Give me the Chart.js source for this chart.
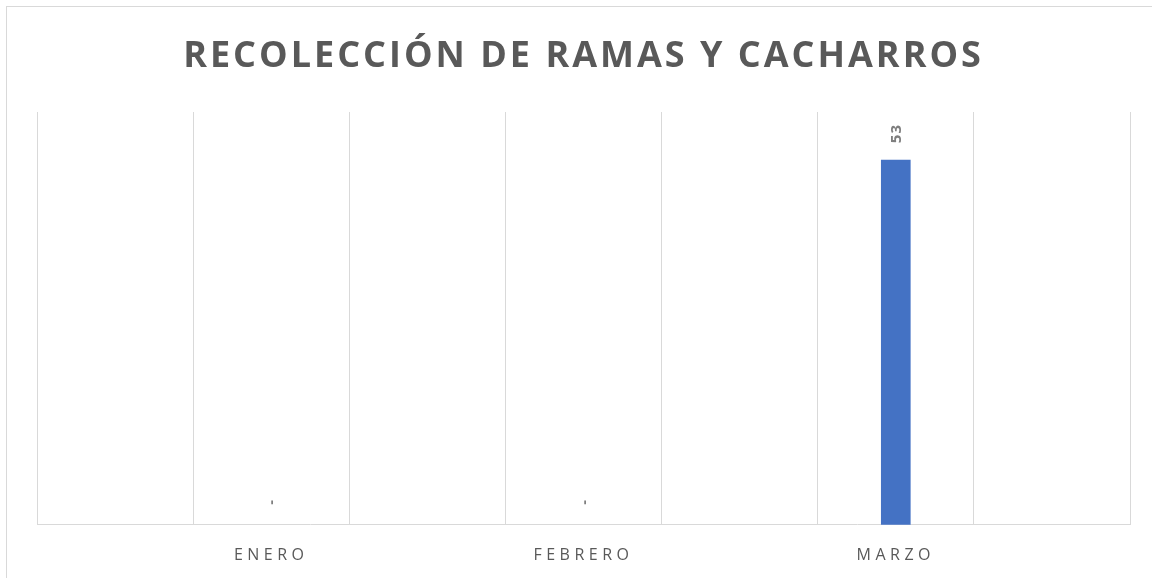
<!DOCTYPE html>
<html>
<head>
<meta charset="utf-8">
<script src="https://cdn.jsdelivr.net/npm/chart.js@4"></script>
<style>
  html, body { margin: 0; padding: 0; background: #ffffff; }
  #wrap { width: 1152px; height: 578px; }
</style>
</head>
<body>
<div id="wrap"><canvas id="chart"></canvas></div>
<script>
const chartTitle = 'RECOLECCIÓN DE RAMAS Y CACHARROS';
const months = ['', 'ENERO', '', 'FEBRERO', '', 'MARZO', ''];
const collected = [null, 0, null, 0, null, 53, null];
const yMax = 60;

const textGray = '#595959';
const gridGray = '#d9d9d9';

// frame, title and letter spacing for the axis labels
const framePlugin = {
    id: 'frame',
    beforeDraw(chart) {
        const ctx = chart.ctx;
        ctx.save();
        ctx.strokeStyle = gridGray;
        ctx.lineWidth = 1;
        ctx.strokeRect(6.5, 6.5, chart.width + 10, chart.height + 10);
        ctx.restore();
        ctx.letterSpacing = '4.5px';
    },
    afterDatasetsDraw(chart) {
        const ctx = chart.ctx;
        ctx.save();
        ctx.letterSpacing = '1px';
        ctx.fillStyle = '#7f7f7f';
        ctx.font = 'bold 15px "Open Sans"';
        ctx.textAlign = 'left';
        ctx.textBaseline = 'middle';
        const meta = chart.getDatasetMeta(0);
        meta.data.forEach((bar, i) => {
            const v = collected[i];
            if (v === null) return;
            const gap = v === 0 ? 20 : 17;
            ctx.save();
            ctx.translate(bar.x + 1, bar.y - gap);
            ctx.rotate(-Math.PI / 2);
            ctx.fillText(v === 0 ? '-' : String(v), 0, 0);
            ctx.restore();
        });
        ctx.restore();
    },
    afterDraw(chart) {
        const ctx = chart.ctx;
        ctx.save();
        ctx.letterSpacing = '3px';
        ctx.fillStyle = textGray;
        ctx.font = 'bold 36px "Open Sans"';
        ctx.textAlign = 'center';
        ctx.textBaseline = 'alphabetic';
        const cx = (chart.chartArea.left + chart.chartArea.right) / 2;
        ctx.fillText(chartTitle, cx, 67);
        ctx.restore();
    }
};

new Chart(document.getElementById('chart'), {
    type: 'bar',
    data: {
        labels: months,
        datasets: [{
            data: collected,
            backgroundColor: ctx => ctx.raw === 0 ? 'rgba(0,0,0,0)' : '#4472c4',
            barThickness: 29
        }]
    },
    options: {
        responsive: true,
        maintainAspectRatio: false,
        animation: false,
        layout: { padding: { left: 37, right: 22, top: 112, bottom: -8 } },
        plugins: {
            legend: { display: false },
            tooltip: { enabled: false },
            title: { display: false }
        },
        scales: {
            x: {
                grid: { color: gridGray, drawTicks: false, offset: true },
                border: { color: gridGray },
                ticks: {
                    color: textGray,
                    font: { family: 'Open Sans', size: 16 },
                    padding: 21,
                    maxRotation: 0,
                    autoSkip: false
                }
            },
            y: {
                display: false,
                min: 0,
                max: yMax
            }
        }
    },
    plugins: [framePlugin]
});
</script>
</body>
</html>
